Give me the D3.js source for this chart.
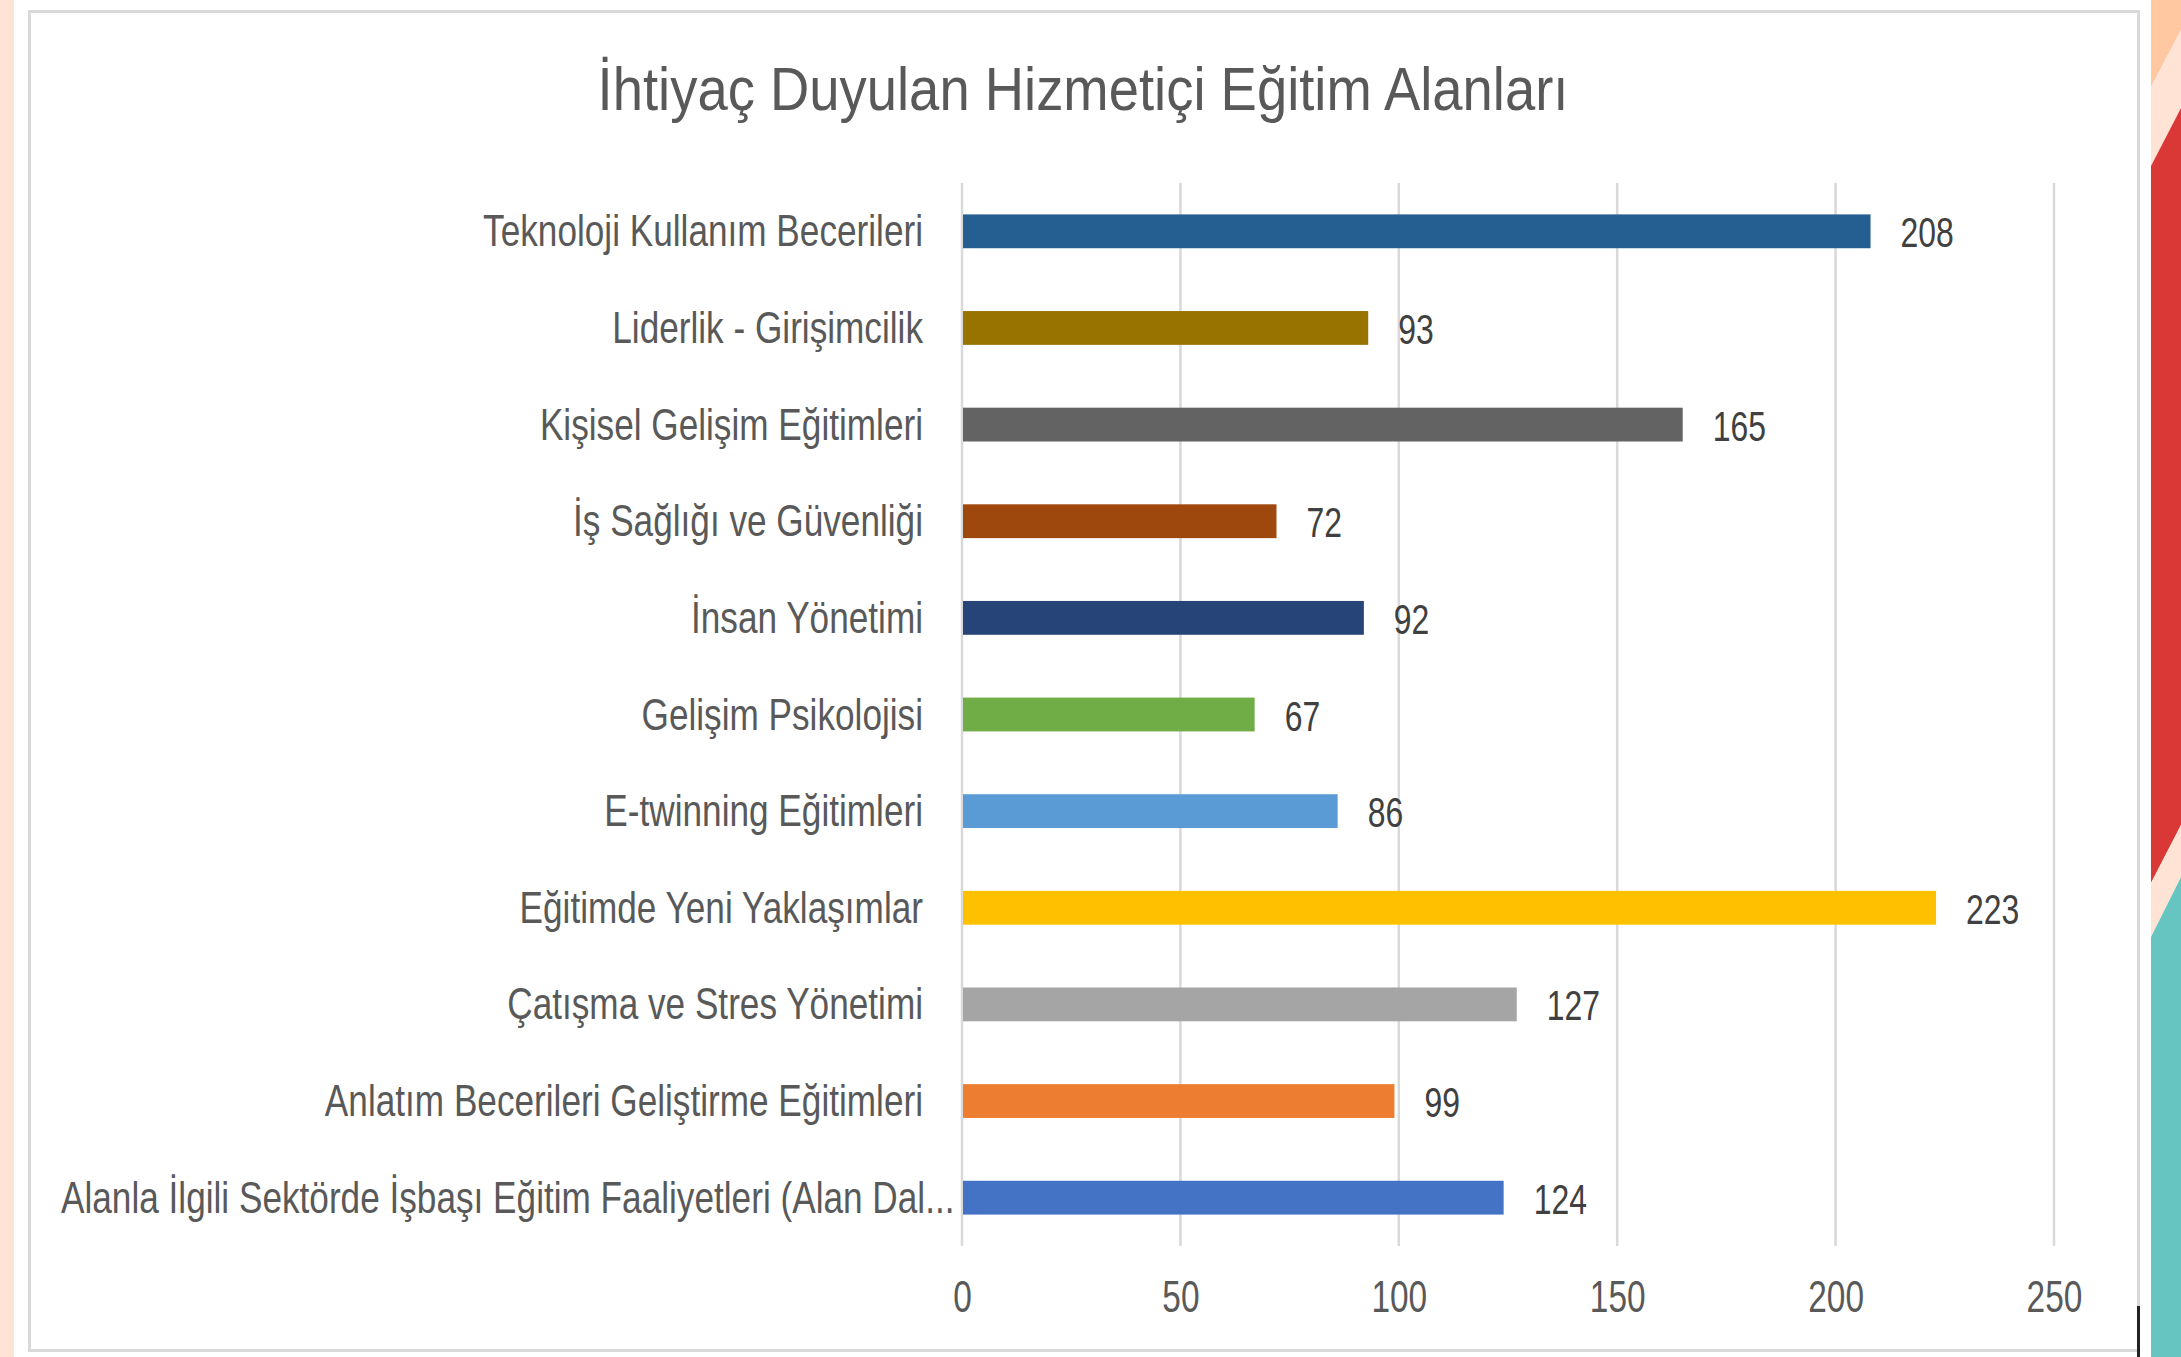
<!DOCTYPE html>
<html>
<head>
<meta charset="utf-8">
<script src="https://cdn.jsdelivr.net/npm/d3@7"></script>
<style>
  html, body { margin: 0; padding: 0; background: #ffffff; }
  svg { display: block; }
  text { font-family: "Liberation Sans", Arial, sans-serif; }
</style>
</head>
<body>
<svg id="chart" width="2181" height="1357"></svg>
<script>
// ---- data ----
const title = "İhtiyaç Duyulan Hizmetiçi Eğitim Alanları";
const categories = [
  "Teknoloji Kullanım Becerileri",
  "Liderlik - Girişimcilik",
  "Kişisel Gelişim Eğitimleri",
  "İş Sağlığı ve Güvenliği",
  "İnsan Yönetimi",
  "Gelişim Psikolojisi",
  "E-twinning Eğitimleri",
  "Eğitimde Yeni Yaklaşımlar",
  "Çatışma ve Stres Yönetimi",
  "Anlatım Becerileri Geliştirme Eğitimleri",
  "Alanla İlgili Sektörde İşbaşı Eğitim Faaliyetleri (Alan Dal..."
];
const values = [208, 93, 165, 72, 92, 67, 86, 223, 127, 99, 124];
const barColors = ["#255E91", "#997300", "#636363", "#9E480E", "#264478",
                   "#70AD47", "#5B9BD5", "#FFC000", "#A5A5A5", "#ED7D31", "#4472C4"];
const xTicks = [0, 50, 100, 150, 200, 250];

// ---- layout ----
const svg = d3.select("#chart");
const W = 2181, H = 1357;
const plot = { left: 962, right: 2054, top: 183, bottom: 1246 };
const labelRight = 923, labelLeftLimit = 61;
const textColor = "#595959";

// background decorations
svg.append("rect").attr("x", 0).attr("y", 0).attr("width", 14).attr("height", H).attr("fill", "#FFE3D5");
const deco = svg.append("g");
deco.append("polygon").attr("points", "2151,0 2181,0 2181,30 2151,87").attr("fill", "#FFC8A0");
deco.append("polygon").attr("points", "2151,87 2181,30 2181,108 2151,166").attr("fill", "#FFE3D5");
deco.append("polygon").attr("points", "2151,166 2181,108 2181,825 2151,883").attr("fill", "#DA3837");
deco.append("polygon").attr("points", "2151,883 2181,825 2181,877 2151,937").attr("fill", "#FFE3D5");
deco.append("polygon").attr("points", "2151,937 2181,877 2181,1357 2151,1357").attr("fill", "#67C5C1");

// chart frame
svg.append("rect").attr("x", 29.5).attr("y", 11.5).attr("width", 2109).attr("height", 1339)
  .attr("fill", "#ffffff").attr("stroke", "#D9D9D9").attr("stroke-width", 3);
svg.append("rect").attr("x", 2137).attr("y", 1306).attr("width", 3).attr("height", 51).attr("fill", "#222222");

// scales
const x = d3.scaleLinear().domain([0, 250]).range([plot.left, plot.right]);
const y = d3.scaleBand().domain(categories).range([plot.top, plot.bottom])
  .paddingInner(0.65).paddingOuter(0.325);

// gridlines
svg.append("g").selectAll("line").data(xTicks).join("line")
  .attr("x1", d => x(d)).attr("x2", d => x(d))
  .attr("y1", plot.top).attr("y2", plot.bottom)
  .attr("stroke", "#D9D9D9").attr("stroke-width", 2.5);

// bars
svg.append("g").selectAll("rect").data(values).join("rect")
  .attr("x", x(0) + 1)
  .attr("y", (d, i) => y(categories[i]))
  .attr("width", d => x(d) - x(0) - 1)
  .attr("height", y.bandwidth())
  .attr("fill", (d, i) => barColors[i]);

// helper: condensed text via horizontal scale
function condensed(sel, sx) {
  sel.each(function () {
    const t = d3.select(this);
    const tx = +t.attr("data-x"), ty = +t.attr("data-y");
    t.attr("transform", `translate(${tx},${ty}) scale(${sx},1)`);
  });
}

// title
const titleText = svg.append("text")
  .attr("data-x", 1083).attr("data-y", 110)
  .attr("text-anchor", "middle").attr("font-size", 62).attr("fill", textColor)
  .text(title);
const titleScale = 971 / titleText.node().getComputedTextLength();
condensed(titleText, titleScale);

// category labels
const labelSize = 44;
const catLabels = svg.append("g").selectAll("text").data(categories).join("text")
  .attr("font-size", labelSize).attr("fill", textColor)
  .text(d => d);
const refLen = catLabels.filter((d, i) => i === 0).node().getComputedTextLength();
const labelScale = 440 / refLen;
catLabels.each(function (d) {
  const t = d3.select(this);
  const w = this.getComputedTextLength() * labelScale;
  const cy = y(d) + y.bandwidth() / 2 + 15;
  if (w > labelRight - labelLeftLimit) {
    t.attr("text-anchor", "start").attr("data-x", labelLeftLimit).attr("data-y", cy);
  } else {
    t.attr("text-anchor", "end").attr("data-x", labelRight).attr("data-y", cy);
  }
});
condensed(catLabels, labelScale);

// value labels
const numScale = 0.76;
const valLabels = svg.append("g").selectAll("text").data(values).join("text")
  .attr("font-size", 42).attr("fill", "#404040")
  .attr("text-anchor", "start")
  .attr("data-x", d => x(d) + 30)
  .attr("data-y", (d, i) => y(categories[i]) + y.bandwidth() / 2 + 16)
  .text(d => d);
condensed(valLabels, numScale);

// x axis tick labels
const axis = d3.axisBottom(x).tickValues(xTicks).tickSize(0).tickPadding(0);
const axisG = svg.append("g").attr("transform", `translate(0,${plot.bottom})`).call(axis);
axisG.select(".domain").remove();
axisG.selectAll(".tick text")
  .attr("font-family", "'Liberation Sans', Arial, sans-serif")
  .attr("font-size", 44).attr("fill", textColor)
  .attr("text-anchor", "middle").attr("dy", null)
  .attr("y", null)
  .attr("data-x", 0).attr("data-y", 66);
condensed(axisG.selectAll(".tick text"), numScale);
</script>
</body>
</html>
